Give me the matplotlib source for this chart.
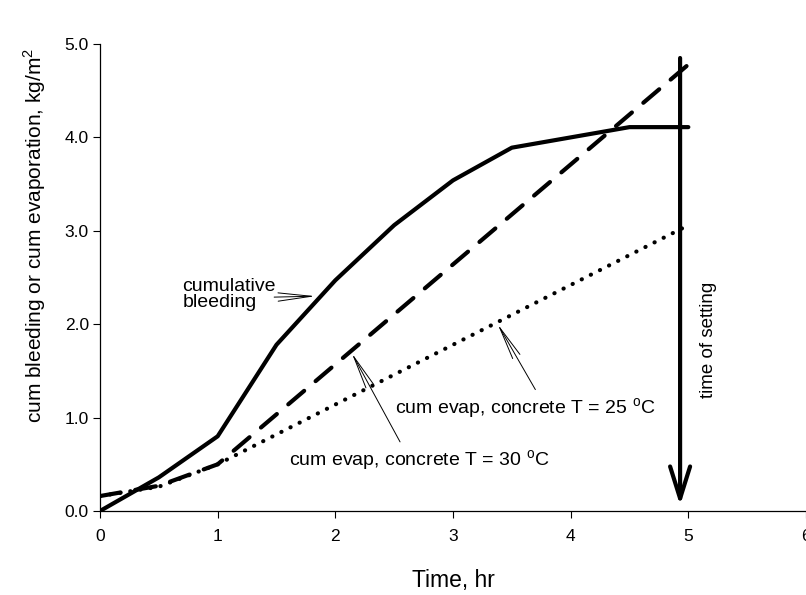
import matplotlib
matplotlib.use("Agg")
import matplotlib.pyplot as plt

plt.rcParams['font.family'] = ['Liberation Sans', 'DejaVu Sans']
plt.rcParams['mathtext.fontset'] = 'custom'
plt.rcParams['mathtext.rm'] = 'Liberation Sans'

# data
bleed_t = [0, 0.5, 1.0, 1.5, 2.0, 2.5, 3.0, 3.5, 4.5, 5.0]
bleed_v = [0.0, 0.36, 0.80, 1.78, 2.47, 3.06, 3.54, 3.89, 4.11, 4.11]
evap30_t = [0, 0.5, 1.0, 5.0]
evap30_v = [0.16, 0.27, 0.50, 4.78]
evap25_t = [0, 0.5, 1.0, 5.0]
evap25_v = [0.16, 0.26, 0.50, 3.06]
setting_time = 4.93
x_ticks = [0, 1, 2, 3, 4, 5, 6]
y_ticks = [0.0, 1.0, 2.0, 3.0, 4.0, 5.0]

fig = plt.figure(figsize=(8.06, 5.95), dpi=100)
ax = fig.add_axes([100/806, 84/595, 706/806, 467/595])

ax.plot(bleed_t, bleed_v, color='black', lw=3, solid_capstyle='round', solid_joinstyle='round')
ax.plot(evap30_t, evap30_v, color='black', lw=3, linestyle=(0, (5, 3.6)), dash_capstyle='round')
ax.plot(evap25_t, evap25_v, color='black', lw=3, linestyle=(0, (0.05, 2.4)), dash_capstyle='round')

# time of setting arrow
ax.annotate('', xy=(setting_time, 0.06), xytext=(setting_time, 4.85),
            arrowprops=dict(arrowstyle='->,head_length=1.15,head_width=0.36',
                            lw=3, color='black', mutation_scale=20,
                            shrinkA=0, shrinkB=0))
ax.text(5.17, 1.83, 'time of setting', rotation=90, ha='center', va='center', fontsize=13.5)

# annotations
thin = dict(arrowstyle='->,head_length=2.4,head_width=0.3', lw=0.7, color='black',
            mutation_scale=10, shrinkA=0, shrinkB=0)
ax.text(0.70, 2.32, 'cumulative\nbleeding', ha='left', va='center', fontsize=14,
        linespacing=0.95)
ax.annotate('', xy=(1.83, 2.30), xytext=(1.48, 2.29), arrowprops=thin)

ax.text(1.61, 0.535, 'cum evap, concrete T = 30 $^{\\rm o}$C', ha='left', va='center', fontsize=14)
ax.annotate('', xy=(2.14, 1.69), xytext=(2.55, 0.74), arrowprops=thin)

ax.text(2.51, 1.10, 'cum evap, concrete T = 25 $^{\\rm o}$C', ha='left', va='center', fontsize=14)
ax.annotate('', xy=(3.38, 2.00), xytext=(3.70, 1.30), arrowprops=thin)

ax.set_xlim(0, 6)
ax.set_ylim(0, 5)
ax.set_xticks(x_ticks)
ax.set_xticklabels([str(t) for t in x_ticks])
ax.set_yticks(y_ticks)
ax.set_yticklabels(['%.1f' % v for v in y_ticks])
ax.tick_params(direction='out', length=5, width=0.8, labelsize=12.5)
ax.tick_params(axis='x', pad=8)
ax.tick_params(axis='y', pad=3)
for s in ['top', 'right']:
    ax.spines[s].set_visible(False)
for s in ['left', 'bottom']:
    ax.spines[s].set_linewidth(0.9)

ax.set_xlabel('Time, hr', fontsize=16.5)
ax.xaxis.label.set_va('center')
ax.xaxis.set_label_coords(0.5, -(580 - 511) / 467)
ax.set_ylabel('cum bleeding or cum evaporation, kg/m$^2$', fontsize=15)
ax.yaxis.label.set_va('center')
ax.yaxis.set_label_coords(-0.092, 0.59)

fig.savefig('out.png', dpi=100)
